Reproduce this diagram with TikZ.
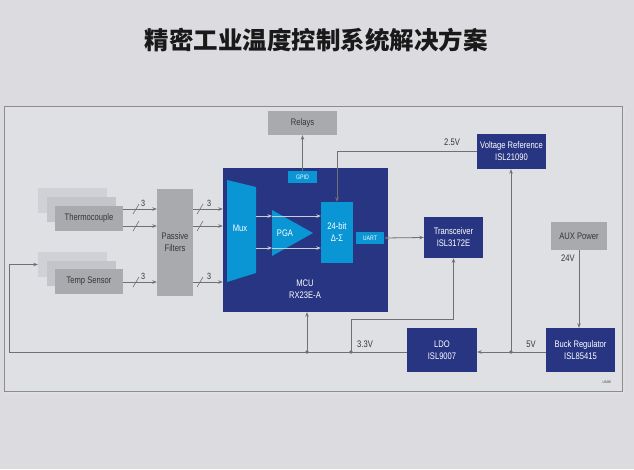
\documentclass[tikz,border=0pt]{standalone}
\usepackage{fontspec}
\setmainfont{Liberation Sans}[FakeStretch=0.8]
\newfontfamily\cjk{Noto Sans CJK SC}
\usetikzlibrary{arrows.meta}
\definecolor{mcublue}{HTML}{283583}
\definecolor{ipblue}{HTML}{0A96D5}
\definecolor{boxgray}{HTML}{A9AAAE}
\definecolor{cardmid}{HTML}{C4C5CA}
\definecolor{cardback}{HTML}{D0D1D6}
\definecolor{linegray}{HTML}{6F7073}
\definecolor{insidegray}{HTML}{C9CCDA}
\definecolor{bggray}{HTML}{DBDBE0}
\definecolor{framefill}{HTML}{DFE0E4}
\definecolor{txtgray}{HTML}{353538}
\tikzset{
  graybox/.style={fill=boxgray,text=txtgray,inner sep=0pt,align=center,
    font=\fontsize{9.5}{12}\selectfont},
  bluebox/.style={fill=mcublue,text=white,inner sep=0pt,align=center,
    font=\fontsize{9.5}{12}\selectfont},
  ipbox/.style={fill=ipblue,text=white,inner sep=0pt,align=center,
    font=\fontsize{6.5}{8}\selectfont},
  card/.style={inner sep=0pt,minimum width=69pt,minimum height=25pt},
  sig/.style={draw=linegray,line width=0.8pt,->},
  insig/.style={draw=insidegray,line width=0.8pt,->},
  lbl/.style={text=txtgray,font=\fontsize{9.5}{11}\selectfont,inner sep=0pt},
  cnt/.style={text=txtgray,font=\fontsize{9}{10}\selectfont,inner sep=0pt},
}
\begin{document}
\begin{tikzpicture}[x=1pt,y=-1pt,>={Stealth[length=4.5pt,width=3.5pt]}]
  \useasboundingbox (0,0) rectangle (634,469);
  \fill[bggray] (0,0) rectangle (634,469);
  % title
  \node[font=\cjk\bfseries\fontsize{24.5}{28}\selectfont,text=black!90] (title) at (316,40) {精密工业温度控制系统解决方案};
  % frame
  \fill[black!12] (6,108) rectangle (625,394);
  \filldraw[fill=framefill,draw=black!45,line width=1pt] (4,106) rectangle (622,391);

  % sensors
  \node[card,fill=cardback] (tc3) at (72.5,200.5) {};
  \node[card,fill=cardmid] (tc2) at (81,209.5) {};
  \node[card,graybox,minimum width=68pt] (tc) at (89,218.5) {Thermocouple};
  \node[card,fill=cardback] (ts3) at (72.5,264.5) {};
  \node[card,fill=cardmid] (ts2) at (81,273) {};
  \node[card,graybox,minimum width=68pt] (ts) at (89,281.5) {Temp Sensor};
  \node[graybox,minimum width=36pt,minimum height=107pt] (filters) at (175,242.5) {Passive\\Filters};

  % MCU
  \node[bluebox,minimum width=165pt,minimum height=144pt] (mcu) at (305.5,240) {};
  \node[bluebox,fill=none] (mcutxt) at (305,289) {MCU\\RX23E-A};
  \node[ipbox,minimum width=29pt,minimum height=12pt] (gpio) at (302.5,177) {GPIO};
  \fill[ipblue] (227,180) -- (256,187) -- (256,273) -- (227,282) -- cycle;
  \node[bluebox,fill=none] (mux) at (240,228) {Mux};
  \fill[ipblue] (272,210) -- (313,233) -- (272,256) -- cycle;
  \node[bluebox,fill=none] (pga) at (285,233) {PGA};
  \node[ipbox,minimum width=32pt,minimum height=61pt,font=\fontsize{9.5}{12}\selectfont] (adc) at (337,232.5) {24-bit\\Δ-Σ};
  \node[ipbox,minimum width=28pt,minimum height=12pt] (uart) at (370,238) {UART};

  % other blocks
  \node[graybox,minimum width=69pt,minimum height=24pt] (relays) at (302.5,123) {Relays};
  \node[bluebox,minimum width=69pt,minimum height=35pt] (vref) at (511.5,151.5) {Voltage Reference\\ISL21090};
  \node[bluebox,minimum width=59pt,minimum height=41pt] (xcvr) at (453.5,237.5) {Transceiver\\ISL3172E};
  \node[graybox,minimum width=56pt,minimum height=28pt] (aux) at (579,236) {AUX Power};
  \node[bluebox,minimum width=70pt,minimum height=44pt] (ldo) at (442,350) {LDO\\ISL9007};
  \node[bluebox,minimum width=69pt,minimum height=44pt] (buck) at (580.5,350) {Buck Regulator\\ISL85415};

  % signal paths
  \coordinate (t1) at (123,209);
  \coordinate (t2) at (123,226);
  \coordinate (t3) at (123,282);
  \foreach \p in {t1,t2,t3} {
    \draw[sig] (\p) -- (\p -| filters.west);
    \draw[sig] (\p -| filters.east) -- (\p -| mcu.west);
  }
  \foreach \y in {209,226,282} {
    \draw[linegray,line width=0.6pt] (133,\y+5) -- (139,\y-5);
    \draw[linegray,line width=0.6pt] (197,\y+5) -- (203,\y-5);
  }
  \node[cnt] (n1) at (143,203) {3};
  \node[cnt] (n2) at (209,203) {3};
  \node[cnt] (n3) at (143,276) {3};
  \node[cnt] (n4) at (209,276) {3};

  \coordinate (mx1) at (256,216);
  \coordinate (mx2) at (256,248);
  \coordinate (pg1) at (272,216);
  \coordinate (pg2) at (272,248);
  \draw[insig] (mx1) -- (pg1);
  \draw[insig] (mx2) -- (pg2);
  \draw[insig] (pg1) -- (pg1 -| adc.west);
  \draw[insig] (pg2) -- (pg2 -| adc.west);

  \draw[sig] (gpio.north) -- (relays.south);
  \draw[sig] (vref.west) -| (adc.north);
  \node[lbl] (v25) at (452,142) {2.5V};
  \draw[sig,<->] (uart.east) -- (xcvr.west);
  \draw[sig] (aux.south) -- (aux.south |- buck.north);
  \node[lbl] (v24) at (568,258) {24V};

  % power
  \coordinate (j5) at (511,352);
  \coordinate (j3) at (351,352);
  \coordinate (jm) at (307,352);
  \coordinate (busl) at (9,352);
  \coordinate (bend) at (351,319);
  \draw[sig] (buck.west |- j5) -- (ldo.east |- j5);
  \draw[sig] (j5) -- (j5 |- vref.south);
  \draw[sig] (ldo.west |- j3) -- (busl) |- (ts3.west);
  \draw[sig] (j3) -- (bend) -| (xcvr.south);
  \draw[sig] (jm) -- (jm |- mcu.south);
  \foreach \j in {j5,j3,jm} \fill[linegray] (\j) circle (1.8);
  \node[lbl] (v5) at (531,344) {5V};
  \node[lbl] (v33) at (365,344) {3.3V};
  \node[text=txtgray,font=\fontsize{3.5}{4}\selectfont] (code) at (607,382) {US085};
\end{tikzpicture}
\end{document}
